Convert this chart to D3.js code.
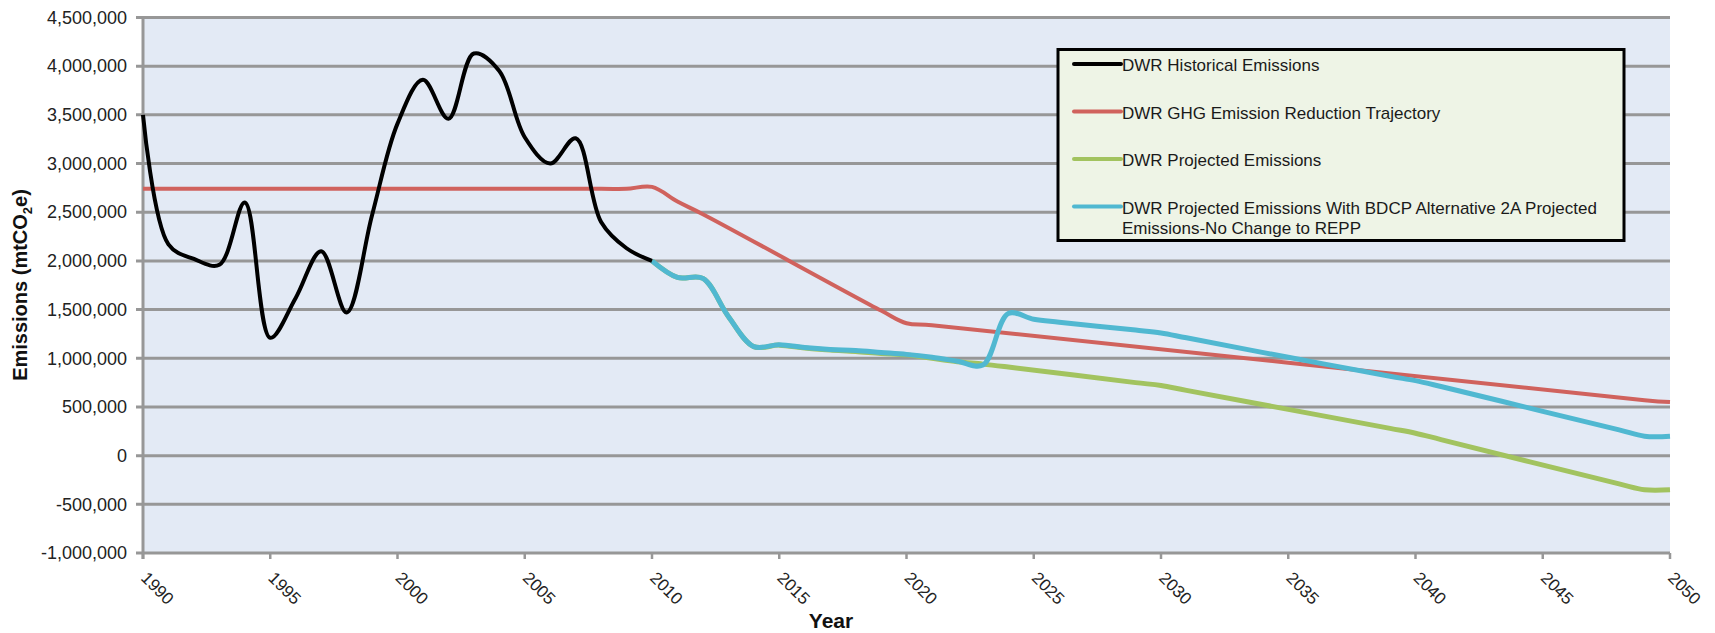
<!DOCTYPE html>
<html>
<head>
<meta charset="utf-8">
<script src="https://cdn.jsdelivr.net/npm/d3@7"></script>
<style>
  html, body { margin: 0; padding: 0; background: #fff; }
  svg { display: block; font-family: "Liberation Sans", Arial, sans-serif; }
</style>
</head>
<body>
<svg id="chart" width="1715" height="633"></svg>
<script>
// ---------- data ----------
const yTicks = [-1000000, -500000, 0, 500000, 1000000, 1500000, 2000000, 2500000, 3000000, 3500000, 4000000, 4500000];
const xTicks = [1990, 1995, 2000, 2005, 2010, 2015, 2020, 2025, 2030, 2035, 2040, 2045, 2050];

const historicalYears  = [1990,1991,1992,1993,1994,1995,1996,1997,1998,1999,2000,2001,2002,2003,2004,2005,2006,2007,2008,2009,2010];
const historicalValues = [3500000,2170000,2020000,1960000,2600000,1210000,1620000,2100000,1470000,2470000,3410000,3860000,3460000,4130000,3950000,3270000,3000000,3260000,2400000,2130000,2000000];

const trajectoryYears  = [1990,1991,2008,2009,2010,2011,2012,2019,2020,2021,2049,2050];
const trajectoryValues = [2740000,2740000,2740000,2740000,2760000,2610000,2480000,1490000,1360000,1340000,570000,550000];

const projectedYears  = [2010,2011,2012,2013,2014,2015,2016,2017,2018,2019,2020,2021,2022,2023,2024,2029,2030,2031,2039,2040,2041,2048,2049,2050];
const projectedValues = [2000000,1830000,1820000,1430000,1120000,1135000,1105000,1085000,1070000,1050000,1035000,1000000,965000,940000,910000,750000,720000,670000,280000,230000,165000,-290000,-350000,-350000];

const bdcpYears  = [2010,2011,2012,2013,2014,2015,2016,2017,2018,2019,2020,2021,2022,2023,2024,2025,2026,2029,2030,2031,2035,2039,2040,2041,2045,2048,2049,2050];
const bdcpValues = [2000000,1830000,1820000,1430000,1120000,1140000,1110000,1090000,1080000,1060000,1040000,1010000,970000,930000,1460000,1400000,1370000,1290000,1260000,1210000,1010000,815000,770000,710000,455000,265000,200000,200000];

const seriesNames  = ["DWR Historical Emissions", "DWR GHG Emission Reduction Trajectory", "DWR Projected Emissions", "DWR Projected Emissions With BDCP Alternative 2A Projected|Emissions-No Change to REPP"];
const seriesColors = ["#000000", "#D0625D", "#A2C35F", "#50B8D1"];

// ---------- layout ----------
const svg = d3.select("#chart");
const L = 143, R = 1670, T = 17.5, B = 553;
const x = d3.scaleLinear().domain([1990, 2050]).range([L, R]);
const y = d3.scaleLinear().domain([-1000000, 4500000]).range([B, T]);

// plot background
svg.append("rect").attr("x", L).attr("y", T).attr("width", R - L).attr("height", B - T).attr("fill", "#E3EAF5");

// gridlines (with left tick marks)
svg.append("g").selectAll("line").data(yTicks).join("line")
  .attr("x1", L - 7).attr("x2", R)
  .attr("y1", d => y(d)).attr("y2", d => y(d))
  .attr("stroke", "#979797").attr("stroke-width", 3);

// bottom ticks
svg.append("g").selectAll("line").data(xTicks).join("line")
  .attr("x1", d => x(d)).attr("x2", d => x(d))
  .attr("y1", B).attr("y2", B + 6)
  .attr("stroke", "#979797").attr("stroke-width", 2.5);

// left axis line
svg.append("line").attr("x1", L).attr("x2", L).attr("y1", T - 1.5).attr("y2", B + 6)
  .attr("stroke", "#979797").attr("stroke-width", 3);

// y axis labels
const fmt = d => d3.format(",")(d).replace("\u2212", "-");
const yAxis = d3.axisLeft(y).tickValues(yTicks).tickFormat(fmt).tickSize(0).tickPadding(16);
const gy = svg.append("g").attr("transform", `translate(${L},0)`).call(yAxis);
gy.select(".domain").remove();
gy.selectAll("text").attr("font-size", 18).attr("fill", "#222").attr("font-family", "Liberation Sans, Arial, sans-serif");

// x axis labels (rotated)
svg.append("g").selectAll("text").data(xTicks).join("text")
  .attr("transform", d => `translate(${x(d) - 3},579) rotate(45)`)
  .attr("text-anchor", "start")
  .attr("font-size", 17).attr("fill", "#222")
  .text(d => d);

// axis titles
svg.append("text").attr("x", 831).attr("y", 628).attr("text-anchor", "middle")
  .attr("font-size", 21).attr("font-weight", "bold").attr("fill", "#111").text("Year");

const yt = svg.append("text").attr("transform", "translate(27,285) rotate(-90)")
  .attr("text-anchor", "middle").attr("font-size", 20).attr("font-weight", "bold").attr("fill", "#111");
yt.append("tspan").text("Emissions (mtCO");
yt.append("tspan").attr("font-size", 13).attr("dy", 5).text("2");
yt.append("tspan").attr("dy", -5).text("e)");

// lines
const line = d3.line().x(d => x(d[0])).y(d => y(d[1])).curve(d3.curveCatmullRom.alpha(0.5));
const zip = (a, b) => a.map((v, i) => [v, b[i]]);
const plotG = svg.append("g");
const draws = [
  {data: zip(trajectoryYears, trajectoryValues), color: seriesColors[1], w: 4},
  {data: zip(projectedYears, projectedValues), color: seriesColors[2], w: 5},
  {data: zip(bdcpYears, bdcpValues), color: seriesColors[3], w: 5},
  {data: zip(historicalYears, historicalValues), color: seriesColors[0], w: 4}
];
draws.forEach(s => {
  plotG.append("path").attr("d", line(s.data)).attr("fill", "none")
    .attr("stroke", s.color).attr("stroke-width", s.w)
    .attr("stroke-linejoin", "round").attr("stroke-linecap", "butt");
});

// legend
const lg = svg.append("g");
lg.append("rect").attr("x", 1058).attr("y", 49.5).attr("width", 566).attr("height", 191)
  .attr("fill", "#EEF4E6").attr("stroke", "#000").attr("stroke-width", 3);
const legendY = [64, 111.5, 159, 206.5];
seriesNames.forEach((name, i) => {
  lg.append("line").attr("x1", 1074).attr("x2", 1121).attr("y1", legendY[i]).attr("y2", legendY[i])
    .attr("stroke", seriesColors[i]).attr("stroke-width", 4).attr("stroke-linecap", "round");
  const t = lg.append("text").attr("x", 1122).attr("y", legendY[i] + 7).attr("font-size", 17).attr("fill", "#1a1a1a");
  name.split("|").forEach((part, j) => {
    t.append("tspan").attr("x", 1122).attr("dy", j === 0 ? 0 : 20).text(part);
  });
});
</script>
</body>
</html>
